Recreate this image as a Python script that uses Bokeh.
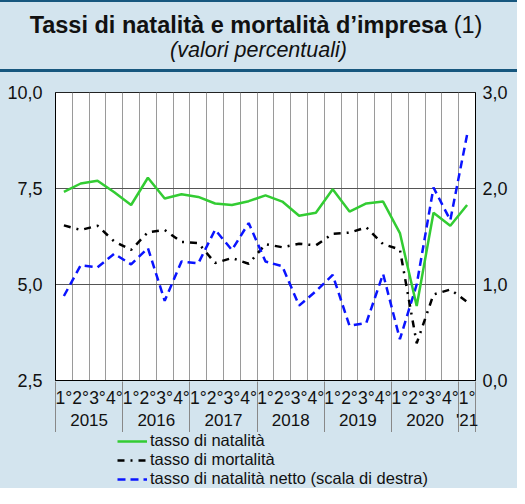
from bokeh.plotting import figure
from bokeh.models import (Range1d, LinearAxis, FixedTicker, CustomJSTickFormatter,
                          Legend, LegendItem, Div)
from bokeh.layouts import column
from bokeh.embed import file_html
from bokeh.resources import INLINE

# ---- data ----
quarter_labels = ["1°", "2°", "3°", "4°"]
year_labels = ["2015", "2016", "2017", "2018", "2019", "2020", "'21"]
quarters_per_year = [4, 4, 4, 4, 4, 4, 1]

natalita = [7.41, 7.63, 7.70, 7.40, 7.07, 7.78, 7.24, 7.35, 7.28, 7.11, 7.07, 7.17,
            7.32, 7.16, 6.79, 6.87, 7.48, 6.90, 7.11, 7.16, 6.34, 4.44, 6.87, 6.53, 7.07]
mortalita = [6.54, 6.42, 6.53, 6.12, 5.90, 6.36, 6.42, 6.11, 6.08, 5.56, 5.69, 5.54,
             6.05, 5.97, 6.06, 6.02, 6.32, 6.35, 6.49, 6.05, 5.91, 3.47, 4.74, 4.87, 4.55]
netto = [0.88, 1.20, 1.18, 1.32, 1.21, 1.38, 0.83, 1.24, 1.22, 1.57, 1.36, 1.64,
         1.24, 1.19, 0.78, 0.93, 1.10, 0.57, 0.60, 1.11, 0.43, 1.00, 2.01, 1.67, 2.56]

left_ticks = [2.5, 5.0, 7.5, 10.0]
right_ticks = [0.0, 1.0, 2.0, 3.0]

title_text = "Tassi di natalità e mortalità d’impresa"
title_note = "(1)"
subtitle_text = "(valori percentuali)"
legend_labels = ["tasso di natalità", "tasso di mortalità",
                 "tasso di natalità netto (scala di destra)"]

FONT = "Liberation Sans"
BG = "#d3e4ee"
DARK = "#17577e"
GREEN = "#33cc33"
BLUE = "#0a14ff"
W = 517
HEAD = 72
MAIN_H = 360
LEG_H = 488 - HEAD - MAIN_H
BL, BR = 55, 42

n = len(natalita)
x = [i + 0.5 for i in range(n)]

year_bounds = [0]
for q in quarters_per_year:
    year_bounds.append(year_bounds[-1] + q)
year_centers = [(year_bounds[i] + year_bounds[i + 1]) / 2 for i in range(len(year_labels))]

# ---- header band ----
header_html = (
    f'<div style="position:relative;width:{W}px;height:{HEAD}px;box-sizing:border-box;'
    f'background:{BG};border-top:2px solid {DARK};border-bottom:3px solid {DARK};'
    f"font-family:'{FONT}';color:#111;margin:0;padding:0;\">"
    f'<div style="position:absolute;left:0;right:5px;top:8px;height:30px;line-height:30px;'
    f'text-align:center;font-size:23.5px;white-space:nowrap;">'
    f'<b>{title_text}</b> {title_note}</div>'
    f'<div style="position:absolute;left:0;right:0;top:35px;height:26px;line-height:26px;'
    f'text-align:center;font-size:21.5px;font-style:italic;white-space:nowrap;">'
    f'{subtitle_text}</div></div>'
)
header = Div(text=header_html, width=W, height=HEAD, margin=(0, 0, 0, 0))

# ---- main figure ----
p = figure(width=W, height=MAIN_H, output_backend="svg", toolbar_location=None,
           x_range=Range1d(0, n), y_range=Range1d(left_ticks[0], left_ticks[-1]),
           min_border_left=BL, min_border_right=BR, min_border_top=20, min_border_bottom=50,
           margin=(0, 0, 0, 0))
p.border_fill_color = BG
p.background_fill_color = "white"
p.outline_line_color = "#222"
p.extra_y_ranges = {"right": Range1d(right_ticks[0], right_ticks[-1])}

fmt_code = "return tick.toFixed(1).replace('.', ',')"

ya = p.yaxis[0]
ya.ticker = FixedTicker(ticks=left_ticks, minor_ticks=[])
ya.formatter = CustomJSTickFormatter(code=fmt_code)
ya.major_tick_line_color = None
ya.minor_tick_line_color = None
ya.major_tick_out = 0
ya.major_label_standoff = 13
ya.major_label_text_font = FONT
ya.major_label_text_font_size = "18px"
ya.major_label_text_color = "#111"
ya.axis_line_color = "black"

ry = LinearAxis(y_range_name="right", ticker=FixedTicker(ticks=right_ticks, minor_ticks=[]),
                formatter=CustomJSTickFormatter(code=fmt_code))
ry.major_tick_line_color = None
ry.minor_tick_line_color = None
ry.major_tick_out = 0
ry.major_label_standoff = 7
ry.major_label_text_font = FONT
ry.major_label_text_font_size = "18px"
ry.major_label_text_color = "#111"
ry.axis_line_color = "black"
p.add_layout(ry, "right")

xa = p.xaxis[0]
xa.ticker = FixedTicker(ticks=x, minor_ticks=[])
xa.major_label_overrides = {xi: quarter_labels[i % 4] for i, xi in enumerate(x)}
xa.major_tick_line_color = None
xa.minor_tick_line_color = None
xa.major_tick_out = 0
xa.major_tick_in = 0
xa.minor_tick_out = 0
xa.minor_tick_in = 0
xa.major_label_standoff = 7
xa.major_label_text_font = FONT
xa.major_label_text_font_size = "17.5px"
xa.major_label_text_color = "#111"
xa.axis_line_color = "black"

xb = LinearAxis(ticker=FixedTicker(ticks=year_centers, minor_ticks=year_bounds))
xb.major_label_overrides = {c: year_labels[i] for i, c in enumerate(year_centers)}
xb.axis_line_color = None
xb.major_tick_line_color = None
xb.major_tick_out = 0
xb.major_tick_in = 0
xb.minor_tick_line_color = "#888"
xb.minor_tick_in = 29
xb.minor_tick_out = 22
xb.major_label_standoff = -22
xb.major_label_text_font = FONT
xb.major_label_text_font_size = "17px"
xb.major_label_text_color = "#111"
p.add_layout(xb, "below")

p.ygrid.ticker = FixedTicker(ticks=left_ticks[1:-1])
p.ygrid.grid_line_color = "#555"
p.xgrid.ticker = FixedTicker(ticks=list(range(1, n)))
p.xgrid.grid_line_color = "#9a9a9a"

mort_style = dict(line_color="black", line_width=2.5, line_dash="7 6 2 6")
net_style = dict(line_color=BLUE, line_width=2.5, line_dash="8 5")
nat_style = dict(line_color=GREEN, line_width=2.5)

p.line(x, mortalita, **mort_style)
p.line(x, netto, y_range_name="right", **net_style)
p.line(x, natalita, **nat_style)

# ---- legend figure (series drawn off-range so only the legend shows) ----
lf = figure(width=W, height=LEG_H, output_backend="svg", toolbar_location=None,
            x_axis_type=None, y_axis_type=None, margin=(0, 0, 0, 0),
            min_border_left=BL, min_border_right=BR, min_border_top=0, min_border_bottom=0,
            x_range=Range1d(0, n), y_range=Range1d(100, 101))
lf.border_fill_color = BG
lf.background_fill_color = BG
lf.outline_line_color = None
lf.grid.visible = False
l_nat = lf.line(x, natalita, **nat_style)
l_mort = lf.line(x, mortalita, **mort_style)
l_net = lf.line(x, netto, **net_style)

legend = Legend(items=[
    LegendItem(label=legend_labels[0], renderers=[l_nat]),
    LegendItem(label=legend_labels[1], renderers=[l_mort]),
    LegendItem(label=legend_labels[2], renderers=[l_net]),
], location=(62, 0), orientation="vertical")
legend.background_fill_alpha = 0
legend.border_line_color = None
legend.padding = 0
legend.margin = 0
legend.spacing = 0
legend.glyph_width = 30
legend.glyph_height = 18
legend.label_height = 18
legend.label_standoff = 3
legend.label_text_font = FONT
legend.label_text_font_size = "16.5px"
legend.label_text_color = "#111"
lf.add_layout(legend)

layout = column(header, p, lf, spacing=0, margin=(0, 0, 0, 0),
                styles={"background-color": BG})
open("out.html", "w", encoding="utf-8").write(file_html(layout, INLINE))
